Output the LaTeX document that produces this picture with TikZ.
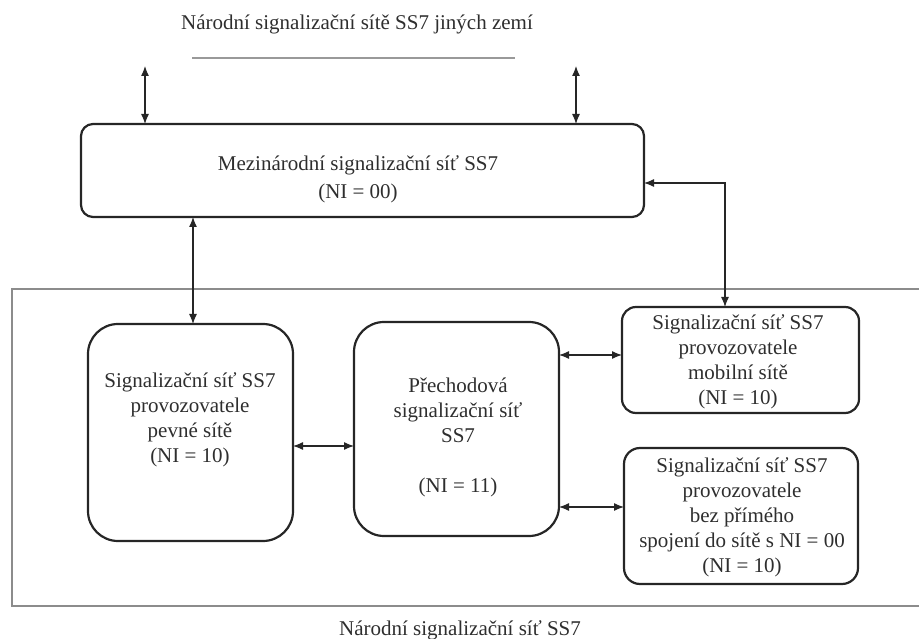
\documentclass[tikz,border=0pt]{standalone}
\usepackage{fontspec}
\setmainfont{Liberation Serif}
\usetikzlibrary{arrows.meta}
\begin{document}
\begin{tikzpicture}[x=1pt,y=-1pt,
  every node/.style={font=\fontsize{21pt}{25pt}\selectfont, text=black!82},
  netbox/.style={draw=black!85, line width=2.2pt, inner sep=0pt, outer sep=0pt},
  txt/.style={align=center, inner sep=0pt},
  dbl/.style={draw=black!85, line width=1.2pt, {Latex[length=10pt,width=8pt]}-{Latex[length=10pt,width=8pt]}},
  frame/.style={draw=black!45, line width=1.3pt}]
\useasboundingbox (0,0) rectangle (919,639);

% titles
\node[txt] (top) at (357,24) {Národní signalizační sítě SS7 jiných zemí};
\draw[draw=black!40, line width=1.4pt] (192,58) -- (515,58);
\node[txt] (bottom) at (460,630) {Národní signalizační síť SS7};

% national frame (open to the right)
\draw[frame] (919,289) -- (12,289) -- (12,606) -- (919,606);

% boxes
\node[netbox, rounded corners=12pt, minimum width=563pt, minimum height=93pt] (intl) at (362.5,170.5) {};
\node[txt, font=\fontsize{21pt}{28pt}\selectfont] (intlt) at (358,179) {Mezinárodní signalizační síť SS7\\(NI = 00)};

\node[netbox, rounded corners=30pt, minimum width=205pt, minimum height=217pt] (fixed) at (190.5,432.5) {};
\node[txt] (fixedt) at (190,420) {Signalizační síť SS7\\provozovatele\\pevné sítě\\(NI = 10)};

\node[netbox, rounded corners=30pt, minimum width=205pt, minimum height=214pt] (trans) at (456.5,429) {};
\node[txt] (transt) at (458,437.5) {Přechodová\\signalizační síť\\SS7\\[25pt](NI = 11)};

\node[netbox, rounded corners=14pt, minimum width=237pt, minimum height=106pt] (mob) at (740.5,360) {};
\node[txt] (mobt) at (738,361.5) {Signalizační síť SS7\\provozovatele\\mobilní sítě\\(NI = 10)};

\node[netbox, rounded corners=16pt, minimum width=234pt, minimum height=136pt] (br) at (741,516) {};
\node[txt] (brt) at (742,517) {Signalizační síť SS7\\provozovatele\\bez přímého\\spojení do sítě s NI = 00\\(NI = 10)};

% connectors
\coordinate (tl) at (145,66);
\coordinate (tr) at (576,66);
\draw[dbl] (tl) -- (intl.north -| tl);
\draw[dbl] (tr) -- (intl.north -| tr);
\draw[dbl] ([xshift=2.5pt]intl.south -| fixed.north) -- ([xshift=2.5pt]fixed.north);
\coordinate (rc) at (725,183);
\draw[dbl] (intl.east |- rc) -- (rc) -- (mob.north -| rc);
\draw[dbl] (fixed.east |- 0,446) -- (trans.west |- 0,446);
\draw[dbl] (trans.east |- 0,355) -- (mob.west |- 0,355);
\draw[dbl] (trans.east |- 0,507) -- (br.west |- 0,507);
\end{tikzpicture}
\end{document}
